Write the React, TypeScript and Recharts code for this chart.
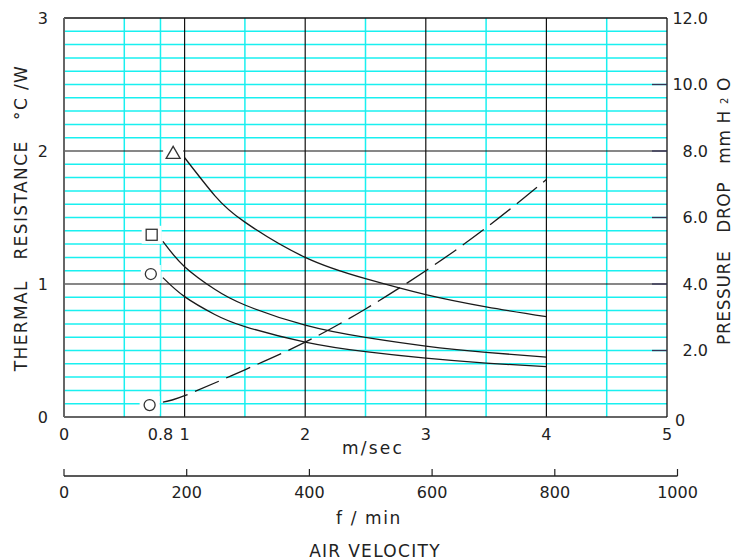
import { ComposedChart, Line, Scatter, XAxis, YAxis, ReferenceLine } from 'recharts';

// air velocity (m/sec) and thermal resistance (°C/W) per curve
const triVel = [1.0, 1.25, 1.5, 2, 2.5, 3, 3.5, 4];
const triRes = [1.95, 1.665, 1.465, 1.2, 1.04, 0.92, 0.828, 0.754];
const sqVel = [0.82, 1, 1.25, 1.5, 2, 2.5, 3, 3.5, 4];
const sqRes = [1.32, 1.13, 0.96, 0.842, 0.69, 0.598, 0.533, 0.486, 0.45];
const ciVel = [0.82, 1, 1.25, 1.5, 2, 2.5, 3, 3.5, 4];
const ciRes = [1.048, 0.905, 0.771, 0.68, 0.563, 0.491, 0.442, 0.405, 0.378];
// pressure drop (mm H2O)
const dpVel = [0.82, 1, 1.5, 2, 2.5, 3, 3.5, 4];
const dpVal = [0.45, 0.64, 1.42, 2.25, 3.25, 4.4, 5.69, 7.14];

// curve legend markers
const markerShapes = ['triangle', 'square', 'circle', 'circle'];
const markerVel = [0.905, 0.727, 0.72, 0.71];
const markerVal = [1.99, 1.37, 1.075, 0.36];
const markerAxis = ['left', 'left', 'left', 'right'];

const velTicks = [0, 0.8, 1, 2, 3, 4, 5];
const resTicks = [0, 1, 2, 3];
const dropTicks = [0, 2, 4, 6, 8, 10, 12];
const ftTicks = [0, 200, 400, 600, 800, 1000];

const cyanX = [0.5, 0.8, 1.5, 2.5, 3.5, 4.5];
const blackX = [1, 2, 3, 4];
const cyanY = Array.from({ length: 29 }, (_, i) => (i + 1) / 10).filter((v) => v !== 1 && v !== 2);
const blackY = [1, 2];

const FONT = 'DejaVu Sans';
const INK = '#222';
const CYAN = '#19f0f0';

const pts = (xs: number[], ys: number[]) => xs.map((x, i) => ({ x, y: ys[i] }));

const makeMarker = (kind: string) => (props: any) => {
  const { cx, cy } = props;
  let mark;
  if (kind === 'triangle') {
    mark = <polygon points={`${cx - 7},${cy + 6} ${cx + 7},${cy + 6} ${cx},${cy - 6}`} fill="#fff" stroke="#333" strokeWidth={1.3} />;
  } else if (kind === 'square') {
    mark = <rect x={cx - 5.5} y={cy - 5.5} width={11} height={11} fill="#fff" stroke="#333" strokeWidth={1.3} />;
  } else {
    mark = <circle cx={cx} cy={cy} r={5.5} fill="#fff" stroke="#333" strokeWidth={1.3} />;
  }
  return (
    <g>
      <rect x={cx - 10} y={cy - 9} width={20} height={18} fill="#fff" />
      {mark}
    </g>
  );
};

const leftTick = (props: any) => {
  const { x, y, payload } = props;
  return (
    <text x={x} y={y} dy="0.36em" textAnchor="end" fontFamily={FONT} fontSize={16} fill={INK}>
      {payload.value}
    </text>
  );
};

const rightTick = (props: any) => {
  const { x, y, payload } = props;
  const v = payload.value;
  return (
    <g>
      {v !== 0 && v !== 12 && <line x1={x - 15} y1={y} x2={x} y2={y} stroke="#335" strokeWidth={1.3} />}
      {v === 0 ? (
        <text x={x + 8} y={y + 3} dy="0.36em" textAnchor="start" fontFamily={FONT} fontSize={16} fill={INK}>
          0
        </text>
      ) : (
        <text x={x + 41} y={y} dy="0.36em" textAnchor="end" fontFamily={FONT} fontSize={16} fill={INK}>
          {v.toFixed(1)}
        </text>
      )}
    </g>
  );
};

const ftTick = (props: any) => {
  const { x, y, payload } = props;
  return (
    <g>
      <line x1={x} y1={y - 7} x2={x} y2={y} stroke={INK} strokeWidth={1.2} />
      <text x={x} y={y + 11} dy="0.71em" textAnchor="middle" fontFamily={FONT} fontSize={16} fill={INK}>
        {payload.value}
      </text>
    </g>
  );
};

export default function App() {
  const series = [
    pts(triVel, triRes),
    pts(sqVel, sqRes),
    pts(ciVel, ciRes),
  ];
  const dropData = pts(dpVel, dpVal);

  return (
    <div style={{ position: 'absolute', left: 0, top: 0, width: 741, height: 560, background: '#fff' }}>
      <ComposedChart width={741} height={560} margin={{ top: 18, right: 24, bottom: 113, left: 24 }}>
        <XAxis
          dataKey="x"
          type="number"
          domain={[0, 5]}
          ticks={velTicks}
          interval={0}
          allowDataOverflow
          tickLine={false}
          tickSize={6}
          tickMargin={6}
          height={30}
          axisLine={{ stroke: '#333', strokeWidth: 1.3 }}
          tick={{ fontFamily: FONT, fontSize: 16, fill: INK }}
        />
        <YAxis
          yAxisId="left"
          dataKey="y"
          type="number"
          domain={[0, 3]}
          ticks={resTicks}
          interval={0}
          width={40}
          tickLine={false}
          tickSize={0}
          tickMargin={16}
          axisLine={{ stroke: '#666', strokeWidth: 2 }}
          tick={leftTick}
        />
        <YAxis
          yAxisId="right"
          orientation="right"
          dataKey="y"
          type="number"
          domain={[0, 12]}
          ticks={dropTicks}
          interval={0}
          width={50}
          tickLine={false}
          tickSize={0}
          tickMargin={0}
          axisLine={{ stroke: '#111', strokeWidth: 1.3 }}
          tick={rightTick}
        />

        {cyanY.map((v) => (
          <ReferenceLine key={`cy${v}`} yAxisId="left" y={v} stroke={CYAN} strokeWidth={1.5} />
        ))}
        {cyanX.map((v) => (
          <ReferenceLine key={`cx${v}`} yAxisId="left" x={v} stroke={CYAN} strokeWidth={1.5} />
        ))}
        {blackY.map((v) => (
          <ReferenceLine key={`by${v}`} yAxisId="left" y={v} stroke="#111" strokeWidth={1.2} />
        ))}
        {blackX.map((v) => (
          <ReferenceLine key={`bx${v}`} yAxisId="left" x={v} stroke="#111" strokeWidth={1.2} />
        ))}
        <ReferenceLine yAxisId="left" y={3} stroke="#111" strokeWidth={1.3} />

        {series.map((d, i) => (
          <Line
            key={`s${i}`}
            data={d}
            dataKey="y"
            yAxisId="left"
            type="natural"
            dot={false}
            stroke="#1a1a1a"
            strokeWidth={1.3}
            isAnimationActive={false}
          />
        ))}
        <Line
          data={dropData}
          dataKey="y"
          yAxisId="right"
          type="natural"
          dot={false}
          stroke="#1a1a1a"
          strokeWidth={1.3}
          strokeDasharray="26 8"
          isAnimationActive={false}
        />

        {markerShapes.map((s, i) => (
          <Scatter
            key={`m${i}`}
            data={[{ x: markerVel[i], y: markerVal[i] }]}
            yAxisId={markerAxis[i]}
            shape={makeMarker(s)}
            isAnimationActive={false}
          />
        ))}

        <text x={373} y={448} dominantBaseline="central" textAnchor="middle" fontFamily={FONT} fontSize={17} letterSpacing={2.2} fill={INK}>
          m/sec
        </text>
        <text x={369} y={518} dominantBaseline="central" textAnchor="middle" fontFamily={FONT} fontSize={17} letterSpacing={1.6} fill={INK} style={{ whiteSpace: 'pre' }}>
          {'f / min'}
        </text>
        <text x={375} y={551} dominantBaseline="central" textAnchor="middle" fontFamily={FONT} fontSize={17} letterSpacing={1.3} fill={INK}>
          AIR VELOCITY
        </text>
        <text
          x={21}
          y={218}
          transform="rotate(-90 21 218)"
          dominantBaseline="central"
          textAnchor="middle"
          fontFamily={FONT}
          fontSize={17}
          letterSpacing={1.4}
          fill={INK}
          style={{ whiteSpace: 'pre' }}
        >
          {'THERMAL   RESISTANCE   °C /W'}
        </text>
        <text
          x={724}
          y={211}
          transform="rotate(-90 724 211)"
          dominantBaseline="central"
          textAnchor="middle"
          fontFamily={FONT}
          fontSize={17}
          letterSpacing={0.6}
          fill={INK}
          style={{ whiteSpace: 'pre' }}
        >
          {'PRESSURE   DROP   mm H '}
          <tspan fontSize={10}>2</tspan>
          {' O'}
        </text>
      </ComposedChart>

      <div style={{ position: 'absolute', left: 0, top: 440 }}>
        <ComposedChart width={741} height={120} margin={{ top: 0, right: 63.5, bottom: 0, left: 64 }} data={ftTicks.map((v) => ({ ft: v }))}>
          <XAxis
            dataKey="ft"
            type="number"
            domain={[0, 1000]}
            ticks={ftTicks}
            interval={0}
            height={84}
            tickLine={false}
            tickSize={0}
            tickMargin={0}
            axisLine={{ stroke: INK, strokeWidth: 1.3 }}
            tick={ftTick}
          />
          <YAxis hide />
        </ComposedChart>
      </div>
    </div>
  );
}
